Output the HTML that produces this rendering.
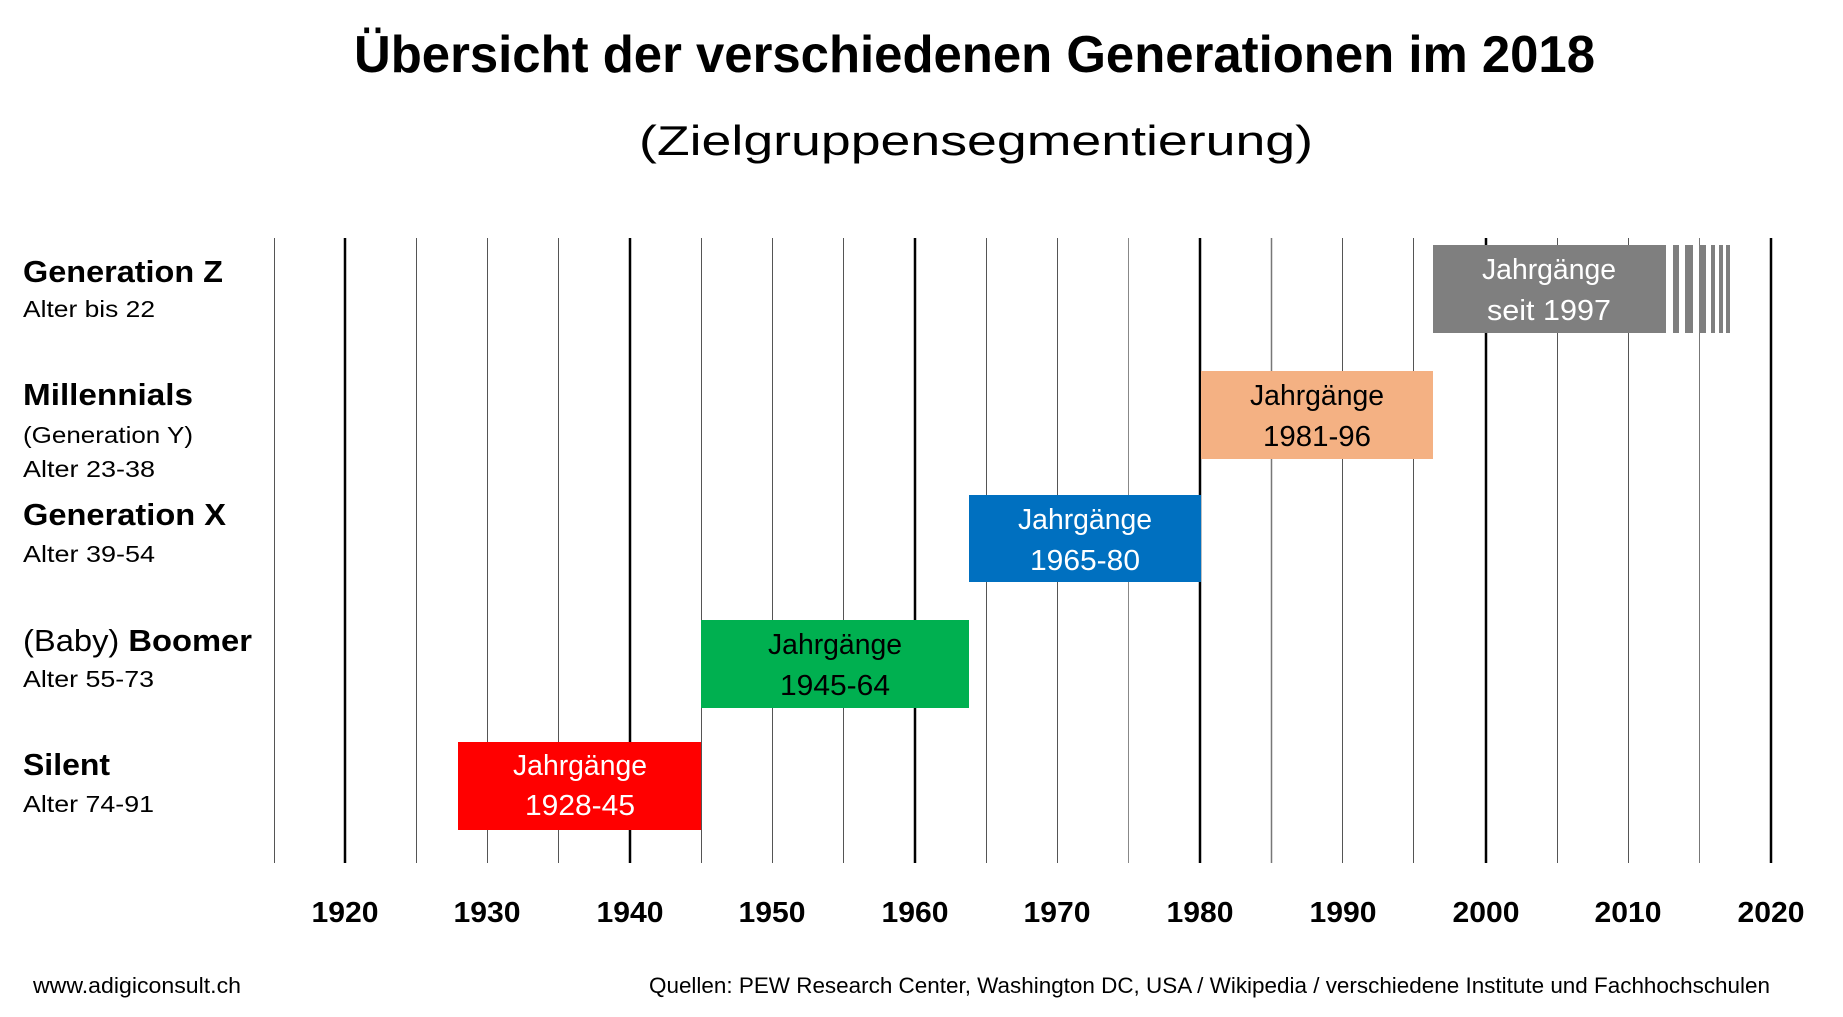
<!DOCTYPE html>
<html><head><meta charset="utf-8"><style>
html,body{margin:0;padding:0;background:#fff;}
svg{display:block;font-family:"Liberation Sans",sans-serif;}
</style></head><body>
<svg width="1843" height="1017" viewBox="0 0 1843 1017" xmlns="http://www.w3.org/2000/svg">
<rect width="1843" height="1017" fill="#fff"/>
<text x="354" y="72" font-size="52" font-weight="bold" textLength="1241" lengthAdjust="spacingAndGlyphs">Übersicht der verschiedenen Generationen im 2018</text>
<text x="639" y="155" font-size="42" textLength="674" lengthAdjust="spacingAndGlyphs">(Zielgruppensegmentierung)</text>
<g stroke-width="1">
<line x1="274.5" y1="238" x2="274.5" y2="863" stroke="#555"/>
<line x1="345" y1="238" x2="345" y2="863" stroke="#000" stroke-width="2.5"/>
<line x1="416.5" y1="238" x2="416.5" y2="863" stroke="#555"/>
<line x1="487.5" y1="238" x2="487.5" y2="863" stroke="#555"/>
<line x1="558.5" y1="238" x2="558.5" y2="863" stroke="#555"/>
<line x1="630" y1="238" x2="630" y2="863" stroke="#000" stroke-width="2.5"/>
<line x1="701.5" y1="238" x2="701.5" y2="863" stroke="#555"/>
<line x1="772.5" y1="238" x2="772.5" y2="863" stroke="#555"/>
<line x1="843.5" y1="238" x2="843.5" y2="863" stroke="#555"/>
<line x1="915" y1="238" x2="915" y2="863" stroke="#000" stroke-width="2.5"/>
<line x1="986.5" y1="238" x2="986.5" y2="863" stroke="#555"/>
<line x1="1057.5" y1="238" x2="1057.5" y2="863" stroke="#555"/>
<line x1="1128.5" y1="238" x2="1128.5" y2="863" stroke="#888"/>
<line x1="1200" y1="238" x2="1200" y2="863" stroke="#000" stroke-width="2.5"/>
<line x1="1271.5" y1="238" x2="1271.5" y2="863" stroke="#777" stroke-width="1.5"/>
<line x1="1342.5" y1="238" x2="1342.5" y2="863" stroke="#555"/>
<line x1="1413.5" y1="238" x2="1413.5" y2="863" stroke="#555"/>
<line x1="1486" y1="238" x2="1486" y2="863" stroke="#000" stroke-width="2.5"/>
<line x1="1557.5" y1="238" x2="1557.5" y2="863" stroke="#555"/>
<line x1="1628.5" y1="238" x2="1628.5" y2="863" stroke="#555"/>
<line x1="1699.5" y1="238" x2="1699.5" y2="863" stroke="#777"/>
<line x1="1771" y1="238" x2="1771" y2="863" stroke="#000" stroke-width="2.5"/>
</g>
<rect x="1433" y="245" width="233" height="88" fill="#7f7f7f"/>
<g fill="#7f7f7f">
<rect x="1673" y="245" width="6" height="88"/>
<rect x="1685" y="245" width="8" height="88"/>
<rect x="1699" y="245" width="7" height="88"/>
<rect x="1711" y="245" width="4" height="88"/>
<rect x="1719" y="245" width="4" height="88"/>
<rect x="1726" y="245" width="4" height="88"/>
</g>
<rect x="1201" y="371" width="232" height="88" fill="#f4b183"/>
<rect x="969" y="495" width="232" height="87" fill="#0070c0"/>
<rect x="701" y="620" width="268" height="88" fill="#00b050"/>
<rect x="458" y="742" width="243" height="88" fill="#ff0000"/>
<g font-size="29" text-anchor="middle">
<text x="1549" y="279" fill="#fff" textLength="134" lengthAdjust="spacingAndGlyphs">Jahrgänge</text>
<text x="1549" y="320" fill="#fff" textLength="124" lengthAdjust="spacingAndGlyphs">seit 1997</text>
<text x="1317" y="405" fill="#000" textLength="134" lengthAdjust="spacingAndGlyphs">Jahrgänge</text>
<text x="1317" y="446" fill="#000" textLength="108" lengthAdjust="spacingAndGlyphs">1981-96</text>
<text x="1085" y="529" fill="#fff" textLength="134" lengthAdjust="spacingAndGlyphs">Jahrgänge</text>
<text x="1085" y="570" fill="#fff" textLength="110" lengthAdjust="spacingAndGlyphs">1965-80</text>
<text x="835" y="654" fill="#000" textLength="134" lengthAdjust="spacingAndGlyphs">Jahrgänge</text>
<text x="835" y="695" fill="#000" textLength="110" lengthAdjust="spacingAndGlyphs">1945-64</text>
<text x="580" y="775" fill="#fff" textLength="134" lengthAdjust="spacingAndGlyphs">Jahrgänge</text>
<text x="580" y="815" fill="#fff" textLength="110" lengthAdjust="spacingAndGlyphs">1928-45</text>
</g>
<g fill="#000">
<text x="23" y="282" font-size="31" font-weight="bold" textLength="200" lengthAdjust="spacingAndGlyphs">Generation Z</text>
<text x="23" y="317" font-size="23" textLength="132" lengthAdjust="spacingAndGlyphs">Alter bis 22</text>
<text x="23" y="405" font-size="31" font-weight="bold" textLength="170" lengthAdjust="spacingAndGlyphs">Millennials</text>
<text x="23" y="443" font-size="23" textLength="170" lengthAdjust="spacingAndGlyphs">(Generation Y)</text>
<text x="23" y="477" font-size="23" textLength="132" lengthAdjust="spacingAndGlyphs">Alter 23-38</text>
<text x="23" y="525" font-size="31" font-weight="bold" textLength="203" lengthAdjust="spacingAndGlyphs">Generation X</text>
<text x="23" y="562" font-size="23" textLength="132" lengthAdjust="spacingAndGlyphs">Alter 39-54</text>
<text x="23" y="651" font-size="31" textLength="229" lengthAdjust="spacingAndGlyphs">(Baby) <tspan font-weight="bold">Boomer</tspan></text>
<text x="23" y="687" font-size="23" textLength="131" lengthAdjust="spacingAndGlyphs">Alter 55-73</text>
<text x="23" y="775" font-size="31" font-weight="bold" textLength="87" lengthAdjust="spacingAndGlyphs">Silent</text>
<text x="23" y="812" font-size="23" textLength="131" lengthAdjust="spacingAndGlyphs">Alter 74-91</text>
</g>
<g font-size="29" font-weight="bold" text-anchor="middle">
<text x="345" y="922" textLength="67" lengthAdjust="spacingAndGlyphs">1920</text>
<text x="487" y="922" textLength="67" lengthAdjust="spacingAndGlyphs">1930</text>
<text x="630" y="922" textLength="67" lengthAdjust="spacingAndGlyphs">1940</text>
<text x="772" y="922" textLength="67" lengthAdjust="spacingAndGlyphs">1950</text>
<text x="915" y="922" textLength="67" lengthAdjust="spacingAndGlyphs">1960</text>
<text x="1057" y="922" textLength="67" lengthAdjust="spacingAndGlyphs">1970</text>
<text x="1200" y="922" textLength="67" lengthAdjust="spacingAndGlyphs">1980</text>
<text x="1343" y="922" textLength="67" lengthAdjust="spacingAndGlyphs">1990</text>
<text x="1486" y="922" textLength="67" lengthAdjust="spacingAndGlyphs">2000</text>
<text x="1628" y="922" textLength="67" lengthAdjust="spacingAndGlyphs">2010</text>
<text x="1771" y="922" textLength="67" lengthAdjust="spacingAndGlyphs">2020</text>
</g>
<text x="33" y="993" font-size="22" textLength="208" lengthAdjust="spacingAndGlyphs">www.adigiconsult.ch</text>
<text x="649" y="993" font-size="22" textLength="1121" lengthAdjust="spacingAndGlyphs">Quellen: PEW Research Center, Washington DC, USA / Wikipedia / verschiedene Institute und Fachhochschulen</text>
</svg>
</body></html>
